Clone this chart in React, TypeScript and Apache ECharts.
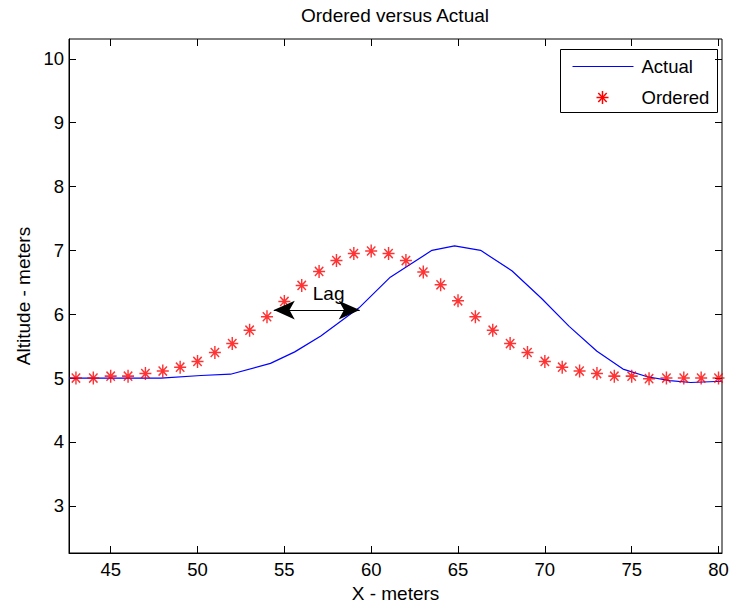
import React, { useEffect, useRef } from 'react';
import * as echarts from 'echarts';

const titleText = 'Ordered versus Actual';
const xAxisName = 'X - meters';
const yAxisName = 'Altitude - meters';
const seriesNames = ['Actual', 'Ordered'];

const xTicks = [45, 50, 55, 60, 65, 70, 75, 80];
const yTicks = [3, 4, 5, 6, 7, 8, 9, 10];
const xRange = [42.6, 80.2];
const yRange = [2.26, 10.31];

const actualX = [42.6, 47.9, 50.2, 51.9, 54.2, 55.6, 57.1, 59.3, 61.1, 63.5, 64.8, 66.3, 68.1, 69.8, 71.4, 73.0, 74.5, 75.9, 77.2, 78.4, 80.2];
const actualY = [5.0, 5.0, 5.04, 5.06, 5.23, 5.41, 5.66, 6.1, 6.58, 7.0, 7.07, 7.0, 6.68, 6.25, 5.81, 5.42, 5.14, 5.02, 4.96, 4.93, 4.95];

const orderedX = [43, 44, 45, 46, 47, 48, 49, 50, 51, 52, 53, 54, 55, 56, 57, 58, 59, 60, 61, 62, 63, 64, 65, 66, 67, 68, 69, 70, 71, 72, 73, 74, 75, 76, 77, 78, 79, 80];
const orderedY = [5.0, 5.0, 5.03, 5.03, 5.07, 5.11, 5.17, 5.26, 5.40, 5.54, 5.75, 5.96, 6.20, 6.45, 6.67, 6.84, 6.95, 6.99, 6.95, 6.84, 6.66, 6.46, 6.21, 5.96, 5.75, 5.54, 5.40, 5.26, 5.17, 5.11, 5.07, 5.03, 5.03, 4.99, 5.0, 5.0, 5.0, 5.0];

const lagText = 'Lag';
const lagArrowX = [54.39, 59.34];
const lagArrowY = 6.065;
const lagTextPos = [57.55, 6.32];

const FONT = '"Liberation Sans", Arial, Helvetica, sans-serif';
const STAR = 'path://M0,-6L0,6M-6,0L6,0M-4.2,-4.2L4.2,4.2M-4.2,4.2L4.2,-4.2';

export default function App() {
  const ref = useRef<HTMLDivElement>(null);
  useEffect(() => {
    document.body.style.margin = '0';
    const chart = echarts.init(ref.current!, null, { renderer: 'svg' });
    const tickStyle = { inside: true, length: 7, lineStyle: { color: '#000', width: 1 } };
    const legendLeft = 560;
    const legendTop = 49;
    chart.setOption({
      animation: false,
      backgroundColor: '#fff',
      textStyle: { fontFamily: FONT },
      title: {
        text: titleText,
        left: 395,
        top: 6,
        padding: 0,
        textAlign: 'center',
        textStyle: { fontFamily: FONT, fontSize: 19, fontWeight: 'normal', color: '#000' },
      },
      grid: { left: 69, top: 39, right: 10, bottom: 59, show: true, borderColor: '#000', borderWidth: 1, backgroundColor: '#fff' },
      xAxis: [
        {
          type: 'value', min: xRange[0], max: xRange[1],
          name: xAxisName, nameLocation: 'middle', nameGap: 31,
          nameTextStyle: { fontFamily: FONT, fontSize: 19, color: '#000' },
          axisLine: { show: true, lineStyle: { color: '#000', width: 1 } },
          axisTick: { ...tickStyle, customValues: xTicks },
          axisLabel: { customValues: xTicks, color: '#000', fontSize: 18.5, fontFamily: FONT, margin: 7 },
          splitLine: { show: false },
        },
        {
          type: 'value', min: xRange[0], max: xRange[1], position: 'top',
          axisLine: { show: false },
          axisTick: { ...tickStyle, customValues: xTicks },
          axisLabel: { show: false, customValues: xTicks },
          splitLine: { show: false },
        },
      ],
      yAxis: [
        {
          type: 'value', min: yRange[0], max: yRange[1],
          name: yAxisName, nameLocation: 'middle', nameGap: 36, nameRotate: 90,
          nameTextStyle: { fontFamily: FONT, fontSize: 19, color: '#000' },
          axisLine: { show: true, lineStyle: { color: '#000', width: 1 } },
          axisTick: { ...tickStyle, customValues: yTicks },
          axisLabel: { customValues: yTicks, color: '#000', fontSize: 18.5, fontFamily: FONT, margin: 5 },
          splitLine: { show: false },
        },
        {
          type: 'value', min: yRange[0], max: yRange[1], position: 'right',
          axisLine: { show: false },
          axisTick: { ...tickStyle, customValues: yTicks },
          axisLabel: { show: false, customValues: yTicks },
          splitLine: { show: false },
        },
      ],
      series: [
        {
          name: seriesNames[0],
          type: 'line',
          data: actualX.map((x, i) => [x, actualY[i]]),
          showSymbol: false,
          symbol: 'none',
          lineStyle: { color: '#0000ff', width: 1.2 },
          silent: true,
          z: 2,
        },
        {
          name: seriesNames[1],
          type: 'scatter',
          data: orderedX.map((x, i) => [x, orderedY[i]]),
          symbol: STAR,
          symbolSize: [12, 13],
          itemStyle: { color: 'transparent', borderColor: '#ff0000', borderWidth: 1.5 },
          silent: true,
          z: 3,
        },
        {
          name: 'annotation',
          type: 'line',
          data: [],
          silent: true,
          z: 4,
          markLine: {
            silent: true,
            animation: false,
            symbol: ['arrow', 'arrow'],
            symbolSize: [14, 21],
            label: { show: false },
            lineStyle: { color: '#000', width: 1.2, type: 'solid' },
            itemStyle: { color: '#000' },
            emphasis: { disabled: true },
            data: [[
              { coord: [lagArrowX[0], lagArrowY] },
              { coord: [lagArrowX[1], lagArrowY] },
            ]],
          },
          markPoint: {
            silent: true,
            animation: false,
            data: [{
              coord: lagTextPos,
              symbol: 'rect',
              symbolSize: 1,
              itemStyle: { color: 'transparent' },
              label: { show: true, formatter: lagText, position: 'inside', color: '#000', fontSize: 19, fontFamily: FONT },
            }],
          },
        },
      ],
      graphic: [
        {
          type: 'group',
          left: legendLeft,
          top: legendTop,
          children: [
            { type: 'rect', shape: { x: 0, y: 0, width: 157, height: 63 }, style: { fill: '#fff', stroke: '#000', lineWidth: 1 } },
            { type: 'line', shape: { x1: 12, y1: 17, x2: 73, y2: 17 }, style: { stroke: '#0000ff', lineWidth: 1.2 } },
            { type: 'text', x: 81, y: 17, style: { text: seriesNames[0], fill: '#000', fontSize: 18.5, fontFamily: FONT, verticalAlign: 'middle', align: 'left' } },
            { type: 'line', shape: { x1: 42, y1: 41.5, x2: 42, y2: 54.5 }, style: { stroke: '#ff0000', lineWidth: 1.5 } },
            { type: 'line', shape: { x1: 36, y1: 48, x2: 48, y2: 48 }, style: { stroke: '#ff0000', lineWidth: 1.5 } },
            { type: 'line', shape: { x1: 37.8, y1: 43.5, x2: 46.2, y2: 52.5 }, style: { stroke: '#ff0000', lineWidth: 1.5 } },
            { type: 'line', shape: { x1: 37.8, y1: 52.5, x2: 46.2, y2: 43.5 }, style: { stroke: '#ff0000', lineWidth: 1.5 } },
            { type: 'text', x: 81, y: 48, style: { text: seriesNames[1], fill: '#000', fontSize: 18.5, fontFamily: FONT, verticalAlign: 'middle', align: 'left' } },
          ],
        },
      ],
    });
    return () => chart.dispose();
  }, []);
  return <div ref={ref} style={{ width: 732, height: 612 }} />;
}
